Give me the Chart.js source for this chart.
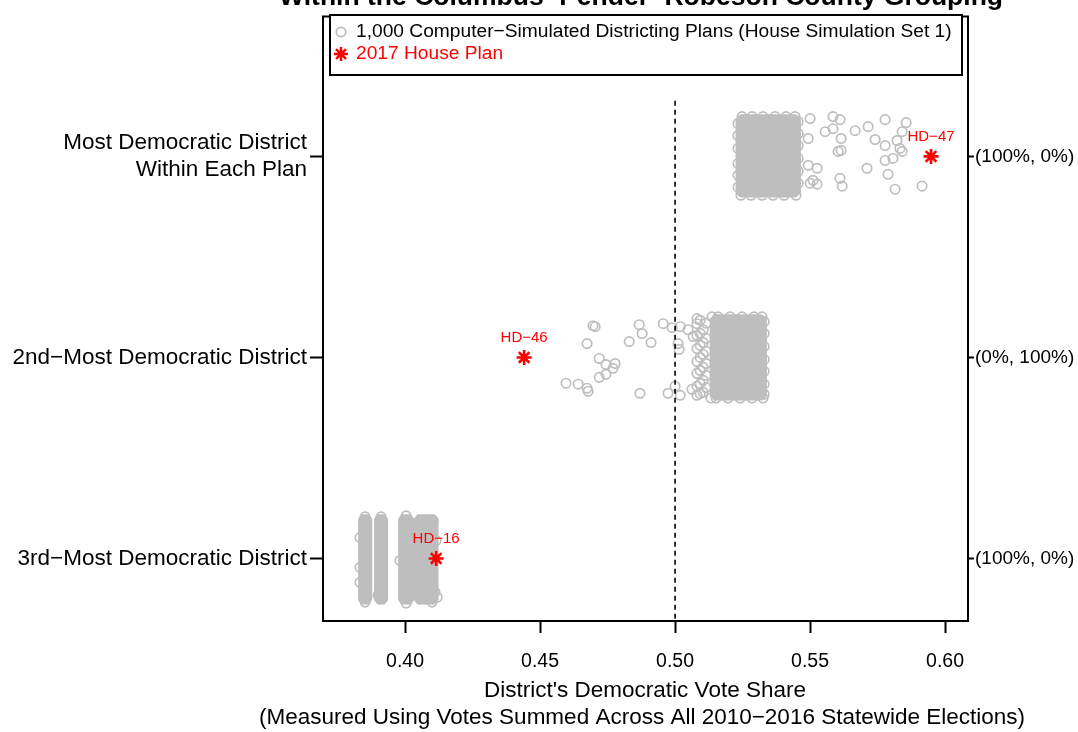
<!DOCTYPE html>
<html>
<head>
<meta charset="utf-8">
<script src="https://cdn.jsdelivr.net/npm/chart.js@4.4.1/dist/chart.umd.min.js"></script>
<style>
  html, body { margin: 0; padding: 0; background: #fff; }
  #chart { display: block; }
</style>
</head>
<body>
<canvas id="chart" width="1078" height="732"></canvas>
<script>
// Rows, top to bottom
const categories = [["Most Democratic District", "Within Each Plan"], "2nd\u2212Most Democratic District", "3rd\u2212Most Democratic District"];
const outcomeLabels = ["(100%, 0%)", "(0%, 100%)", "(100%, 0%)"];
const xTicks = [0.40, 0.45, 0.50, 0.55, 0.60];
const xTitle = ["District's Democratic Vote Share", "(Measured Using Votes Summed Across All 2010\u22122016 Statewide Elections)"];
const xRange = [0.3696, 0.6085];
const yRange = [-0.696, 2.311];
const majorityLine = 0.50;
const majorityLineTop = -0.277;

// 2017 House Plan districts
const planShare = [0.5948, 0.4441, 0.4115];
const planLabels = ["HD\u221247", "HD\u221246", "HD\u221216"];

// Simulated plans, row 0 (vote share, vertical jitter)
const topShare = [
  0.5248, 0.5285, 0.5326, 0.5370, 0.5411, 0.5444,
  0.5244, 0.5281, 0.5322, 0.5363, 0.5404, 0.5448,
  0.5233, 0.5233, 0.5233, 0.5233, 0.5233, 0.5233,
  0.5456, 0.5456, 0.5456, 0.5456, 0.5456, 0.5456,
  0.5585, 0.5611, 0.5556, 0.5585, 0.5667, 0.5715, 0.5778, 0.5856, 0.5841, 0.5741,
  0.5778, 0.5822, 0.5833, 0.5841, 0.5615, 0.5604, 0.5615, 0.5526, 0.5711, 0.5778,
  0.5807, 0.5789, 0.5611, 0.5619, 0.5815, 0.5915, 0.5511, 0.5526, 0.5493, 0.5500,
  0.5493, 0.5500
];
const topJitter = [
  -0.198, -0.198, -0.198, -0.198, -0.198, -0.198,
  0.193, 0.193, 0.193, 0.193, 0.193, 0.193,
  -0.163, -0.104, -0.040, 0.035, 0.094, 0.153,
  -0.173, -0.114, -0.054, 0.010, 0.074, 0.133,
  -0.198, -0.183, -0.123, -0.138, -0.128, -0.148, -0.183, -0.168, -0.123, -0.084,
  -0.054, -0.079, -0.040, -0.025, -0.089, -0.025, -0.030, 0.059, 0.059, 0.020,
  0.010, 0.089, 0.109, 0.148, 0.163, 0.148, 0.119, 0.138, -0.089, -0.188,
  0.044, 0.133
];
const topCoreShare = [0.5226, 0.5241, 0.5448, 0.5463, 0.5463, 0.5448, 0.5241, 0.5226];
const topCoreJitter = [-0.188, -0.207, -0.207, -0.188, 0.183, 0.202, 0.202, 0.183];

// Simulated plans, row 1
const midShare = [
  0.5137, 0.5159, 0.5204, 0.5248, 0.5293, 0.5322,
  0.5133, 0.5152, 0.5196, 0.5241, 0.5285, 0.5326,
  0.5330, 0.5330, 0.5330, 0.5330, 0.5330, 0.5330, 0.5330,
  0.5081, 0.5081, 0.5081, 0.5081, 0.5081, 0.5081, 0.5081,
  0.5104, 0.5104, 0.5104, 0.5104, 0.5104, 0.5104,
  0.5093, 0.5093, 0.5093, 0.5093, 0.5093, 0.5093, 0.5093,
  0.5115, 0.5115, 0.5115, 0.5115, 0.5115, 0.5115,
  0.4704, 0.4696, 0.4867, 0.4956, 0.4674, 0.4830, 0.4878, 0.4911, 0.4719, 0.4744,
  0.4778, 0.4770, 0.4719, 0.4744, 0.4596, 0.4641, 0.4678, 0.4674, 0.4870, 0.4974,
  0.5000, 0.5019, 0.4989, 0.5019, 0.5011, 0.5015, 0.5048, 0.5063, 0.5067, 0.5081
];
const midJitter = [
  -0.202, -0.202, -0.202, -0.202, -0.202, -0.202,
  0.202, 0.202, 0.202, 0.202, 0.202, 0.202,
  -0.178, -0.119, -0.054, 0.010, 0.069, 0.133, 0.183,
  -0.168, -0.109, -0.044, 0.020, 0.079, 0.143, 0.188,
  -0.138, -0.074, -0.015, 0.049, 0.114, 0.173,
  -0.185, -0.120, -0.060, 0.000, 0.065, 0.130, 0.180,
  -0.170, -0.095, -0.030, 0.030, 0.090, 0.150,
  -0.153, -0.158, -0.163, -0.168, -0.069, -0.079, -0.119, -0.074, 0.005, 0.035,
  0.030, 0.054, 0.099, 0.084, 0.128, 0.133, 0.168, 0.153, 0.178, 0.178,
  0.143, 0.188, -0.148, -0.153, -0.069, -0.040, -0.138, 0.158, -0.104, -0.193
];
const midCoreShare = [0.5130, 0.5144, 0.5322, 0.5337, 0.5337, 0.5322, 0.5144, 0.5130];
const midCoreJitter = [-0.193, -0.212, -0.212, -0.193, 0.193, 0.212, 0.212, 0.193];

// Simulated plans, row 2 (four narrow columns)
const lowShare = [0.3833, 0.3833, 0.3833, 0.3900, 0.3981, 0.4111, 0.4119, 0.4100, 0.4104, 0.4115, 0.3852, 0.3911, 0.4004, 0.3852, 0.4004];
const lowJitter = [-0.104, 0.044, 0.119, 0.183, 0.010, 0.168, 0.193, 0.217, -0.188, -0.089, -0.207, -0.207, -0.212, 0.217, 0.222];
const lowCol1Share = [0.3828, 0.3839, 0.3865, 0.3876, 0.3876, 0.3865, 0.3839, 0.3828];
const lowCol2Share = [0.3887, 0.3898, 0.3924, 0.3935, 0.3935, 0.3924, 0.3898, 0.3887];
const lowCol3Share = [0.3976, 0.3987, 0.4021, 0.4032, 0.4032, 0.4021, 0.3987, 0.3976];
const lowCol4Share = [0.4035, 0.4046, 0.4109, 0.4121, 0.4121, 0.4109, 0.4046, 0.4035];
const lowColJitter = [-0.198, -0.217, -0.217, -0.198, 0.207, 0.227, 0.227, 0.207];

const GRAY = "#bebebe";
const RED = "#ff0000";
const FONT = '"Liberation Sans", Arial, Helvetica, sans-serif';
Chart.defaults.font.family = FONT;
Chart.defaults.color = "#000";

function toPoints(row, shares, jitter) {
  return shares.map((x, i) => ({ x: x, y: row + jitter[i] }));
}

function coreDataset(row, shares, jitter) {
  const pts = toPoints(row, shares, jitter);
  pts.push(pts[0]);
  return {
    type: "line",
    order: 4,
    data: pts,
    fill: "shape",
    backgroundColor: GRAY,
    borderColor: GRAY,
    borderWidth: 1,
    pointRadius: 0,
    tension: 0
  };
}

function ringDataset(row, shares, jitter) {
  return {
    type: "scatter",
    order: 3,
    data: toPoints(row, shares, jitter),
    pointStyle: "circle",
    pointRadius: 4.7,
    borderWidth: 1.7,
    borderColor: GRAY,
    backgroundColor: "rgba(0,0,0,0)"
  };
}

// Frame, legend box, titles and district labels
const decorations = {
  id: "decorations",
  afterDatasetsDraw(chart) {
    const { ctx, chartArea: a, scales } = chart;
    ctx.save();
    ctx.fillStyle = RED;
    ctx.font = "15px " + FONT;
    ctx.textAlign = "center";
    ctx.textBaseline = "middle";
    planShare.forEach((v, i) => {
      const px = scales.x.getPixelForValue(v);
      const py = scales.y.getPixelForValue(i);
      ctx.fillText(planLabels[i], px, py - 20);
    });
    ctx.strokeStyle = "#000";
    ctx.lineWidth = 2;
    ctx.strokeRect(a.left, a.top, a.right - a.left, a.bottom - a.top);
    ctx.restore();
  },
  afterDraw(chart) {
    const { ctx } = chart;
    ctx.save();
    // legend
    ctx.fillStyle = "#fff";
    ctx.fillRect(330, 15, 632, 60);
    ctx.strokeStyle = "#000";
    ctx.lineWidth = 2;
    ctx.strokeRect(330, 15, 632, 60);
    ctx.strokeStyle = GRAY;
    ctx.lineWidth = 1.7;
    Chart.helpers.drawPoint(ctx, { pointStyle: "circle", radius: 4.7, borderWidth: 1.7 }, 341, 32);
    ctx.strokeStyle = RED;
    ctx.lineWidth = 2.5;
    Chart.helpers.drawPoint(ctx, { pointStyle: "star", radius: 7, borderWidth: 2.5 }, 341, 54);
    ctx.font = "19.2px " + FONT;
    ctx.textAlign = "left";
    ctx.textBaseline = "middle";
    ctx.fillStyle = "#000";
    ctx.fillText("1,000 Computer\u2212Simulated Districting Plans (House Simulation Set 1)", 356, 32);
    ctx.fillStyle = RED;
    ctx.fillText("2017 House Plan", 356, 54);
    // x axis title, two lines
    ctx.fillStyle = "#000";
    ctx.font = "22.5px " + FONT;
    ctx.textAlign = "center";
    ctx.fillText(xTitle[0], 645, 691);
    ctx.fillText(xTitle[1], 642, 718);
    // title, cut at the top edge
    ctx.font = "bold 26.5px " + FONT;
    ctx.textBaseline = "alphabetic";
    ctx.fillText("Within the Columbus\u2212Pender\u2212Robeson County Grouping", 641, 5);
    ctx.restore();
  }
};

const datasets = [
  coreDataset(0, topCoreShare, topCoreJitter),
  coreDataset(1, midCoreShare, midCoreJitter),
  coreDataset(2, lowCol1Share, lowColJitter),
  coreDataset(2, lowCol2Share, lowColJitter),
  coreDataset(2, lowCol3Share, lowColJitter),
  coreDataset(2, lowCol4Share, lowColJitter),
  ringDataset(0, topShare, topJitter),
  ringDataset(1, midShare, midJitter),
  ringDataset(2, lowShare, lowJitter),
  {
    type: "line",
    order: 1,
    data: [{ x: majorityLine, y: majorityLineTop }, { x: majorityLine, y: yRange[1] }],
    borderColor: "#000",
    borderWidth: 1.6,
    borderDash: [5, 4],
    pointRadius: 0,
    fill: false
  },
  {
    type: "scatter",
    order: 0,
    data: planShare.map((v, i) => ({ x: v, y: i })),
    pointStyle: "star",
    pointRadius: 7.5,
    borderWidth: 2.6,
    borderColor: RED,
    backgroundColor: RED
  }
];

const tickGrid = (len) => ({
  display: true,
  drawOnChartArea: false,
  drawTicks: true,
  tickLength: len,
  tickColor: "#000",
  tickWidth: 2
});

new Chart(document.getElementById("chart"), {
  type: "scatter",
  data: { datasets },
  options: {
    responsive: false,
    devicePixelRatio: 1,
    animation: false,
    layout: { padding: { top: 12, left: 0, right: 0, bottom: 0 } },
    plugins: { legend: { display: false }, tooltip: { enabled: false } },
    scales: {
      x: {
        type: "linear",
        position: "bottom",
        min: xRange[0],
        max: xRange[1],
        afterBuildTicks: (s) => { s.ticks = xTicks.map(v => ({ value: v })); },
        afterFit: (s) => { s.height = 111; },
        ticks: {
          callback: (v) => Number(v).toFixed(2),
          font: { size: 19.5 },
          color: "#000",
          padding: 17,
          maxRotation: 0,
          autoSkip: false
        },
        grid: tickGrid(12),
        border: { display: false }
      },
      y: {
        type: "linear",
        position: "left",
        reverse: true,
        min: yRange[0],
        max: yRange[1],
        afterBuildTicks: (s) => { s.ticks = categories.map((c, i) => ({ value: i })); },
        afterFit: (s) => { s.width = 323; },
        ticks: {
          callback: (v) => categories[v],
          font: { size: 22.5, lineHeight: 1.2 },
          color: "#000",
          padding: 3,
          autoSkip: false
        },
        grid: tickGrid(13),
        border: { display: false }
      },
      y2: {
        type: "linear",
        position: "right",
        reverse: true,
        min: yRange[0],
        max: yRange[1],
        afterBuildTicks: (s) => { s.ticks = outcomeLabels.map((c, i) => ({ value: i })); },
        afterFit: (s) => { s.width = 110; },
        ticks: {
          callback: (v) => outcomeLabels[v],
          font: { size: 19 },
          color: "#000",
          padding: 1,
          autoSkip: false
        },
        grid: tickGrid(6),
        border: { display: false }
      }
    }
  },
  plugins: [decorations]
});
</script>
</body>
</html>
